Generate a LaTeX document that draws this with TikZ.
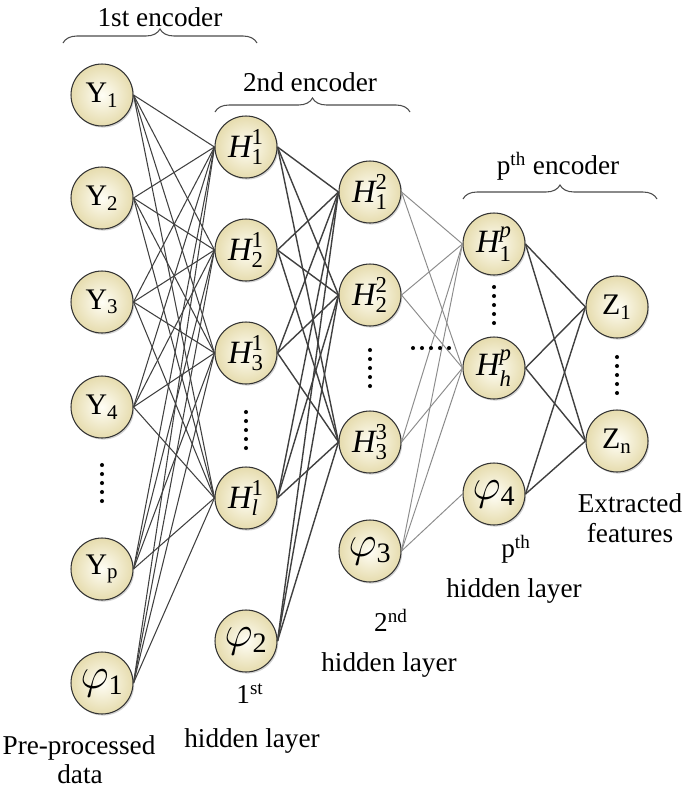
\documentclass[tikz,border=0pt]{standalone}
\usepackage{fontspec}
\setmainfont{Liberation Serif}
\usepackage{amsmath}
\usetikzlibrary{shadows,decorations.pathreplacing}

\definecolor{knotinnen}{HTML}{FFFEF6}
\definecolor{knotaussen}{HTML}{E6DCAE}

% Bias-Knoten
\newcommand{\biasphi}[1]{$\varphi_{\mbox{\fontsize{16}{17}\selectfont #1}}$}

\begin{document}
\begin{tikzpicture}[x=0.02cm,y=-0.02cm,
        neuron/.style={circle, minimum size=1.24cm, inner sep=0pt, draw=black!80,
            line width=0.6pt, inner color=knotinnen, outer color=knotaussen,
            drop shadow={shadow xshift=0.7pt, shadow yshift=-0.9pt, opacity=0.35},
            font=\fontsize{17}{19}\selectfont},
        hneuron/.style={neuron, font=\fontsize{18.5}{20}\selectfont},
        phineuron/.style={neuron, font=\fontsize{27}{28}\selectfont},
        verbA/.style={black!75, line width=0.6pt},
        verbB/.style={black!75, line width=0.8pt},
        verbC/.style={black!45, line width=0.55pt},
        verbD/.style={black!75, line width=0.8pt},
        klammer/.style={decorate, decoration={brace, amplitude=0.28cm},
            line width=0.6pt, draw=black!70},
        beschriftung/.style={font=\fontsize{15.5}{17}\selectfont, align=center}]

    \useasboundingbox (0,0) rectangle (685,788);

    % Eingabeschicht
    \foreach \name/\y/\txt in {y1/95/Y\textsubscript{1}, y2/198/Y\textsubscript{2},
            y3/302/Y\textsubscript{3}, y4/407/Y\textsubscript{4},
            yp/569/Y\textsubscript{p}} {
        \node[neuron] (\name) at (102,\y) {\txt};
    }
    \node[phineuron] (phia) at (102,683) {\biasphi{1}};

    % 1. verdeckte Schicht
    \foreach \name/\y/\txt in {ha1/147/$\textit{H}^{\text{1}}_{\text{1}}$,
            ha2/250/$\textit{H}^{\text{1}}_{\text{2}}$,
            ha3/353/$\textit{H}^{\text{1}}_{\text{3}}$,
            hal/498/$\textit{H}^{\text{1}}_{\textit{l}}$} {
        \node[hneuron] (\name) at (246,\y) {\txt};
    }
    \node[phineuron] (phib) at (246,641) {\biasphi{2}};

    % 2. verdeckte Schicht
    \foreach \name/\y/\txt in {hb1/192/$\textit{H}^{\text{2}}_{\text{1}}$,
            hb2/295/$\textit{H}^{\text{2}}_{\text{2}}$,
            hb3/442/$\textit{H}^{\text{3}}_{\text{3}}$} {
        \node[hneuron] (\name) at (370,\y) {\txt};
    }
    \node[phineuron] (phic) at (370,551) {\biasphi{3}};

    % p-te verdeckte Schicht
    \foreach \name/\y/\txt in {hp1/244/$\textit{H}^{\textit{p}}_{\text{1}}$,
            hph/368/$\textit{H}^{\textit{p}}_{\textit{h}}$} {
        \node[hneuron] (\name) at (494,\y) {\txt};
    }
    \node[phineuron] (phid) at (494,494) {\biasphi{4}};

    % Merkmale
    \node[neuron] (z1) at (617,307) {Z\textsubscript{1}};
    \node[neuron] (zn) at (617,441) {Z\textsubscript{n}};

    % Verbindungen
    \foreach \a in {y1,y2,y3,y4,yp,phia}
        \foreach \b in {ha1,ha2,ha3,hal}
            \draw[verbA] (\a.east) -- (\b.west);
    \foreach \a in {ha1,ha2,ha3,hal,phib}
        \foreach \b in {hb1,hb2,hb3}
            \draw[verbB] (\a.east) -- (\b.west);
    \foreach \a in {hb1,hb2,hb3,phic}
        \foreach \b in {hp1,hph}
            \draw[verbC] (\a.east) -- (\b.west);
    \draw[verbC] (phic.east) -- (phid.west);
    \foreach \a in {hp1,hph,phid}
        \foreach \b in {z1,zn}
            \draw[verbD] (\a.east) -- (\b.west);

    % Punkte
    \foreach \x/\y in {102/483, 246/430, 370/368, 494/305, 617/375}
        \foreach \k in {-2,...,2}
            \fill (\x,\y+\k*9) circle (1.15pt);
    \foreach \k in {-2,...,2}
        \fill (431+\k*9,348) circle (1.15pt);

    % Klammern und Texte
    \node[beschriftung] (enc1) at (160,17) {1st encoder};
    \draw[klammer] (63,43) -- (257,43);
    \node[beschriftung] (enc2) at (310,82) {2nd encoder};
    \draw[klammer] (215,112) -- (410,112);
    \node[beschriftung] (encp) at (558,166) {p\textsuperscript{th} encoder};
    \draw[klammer] (463,199) -- (657,199);

    \node[beschriftung] (lab0a) at (79,748) {Pre-processed};
    \node[beschriftung] (lab0b) at (80,774) {data};
    \node[beschriftung] (lab1a) at (250,694) {1\textsuperscript{st}};
    \node[beschriftung] (lab1b) at (252,741) {hidden layer};
    \node[beschriftung] (lab2a) at (391,620) {2\textsuperscript{nd}};
    \node[beschriftung] (lab2b) at (389,665) {hidden layer};
    \node[beschriftung] (labpa) at (516,549) {p\textsuperscript{th}};
    \node[beschriftung] (labpb) at (514,591) {hidden layer};
    \node[beschriftung] (labz) at (630,518) {Extracted\\features};
\end{tikzpicture}
\end{document}
